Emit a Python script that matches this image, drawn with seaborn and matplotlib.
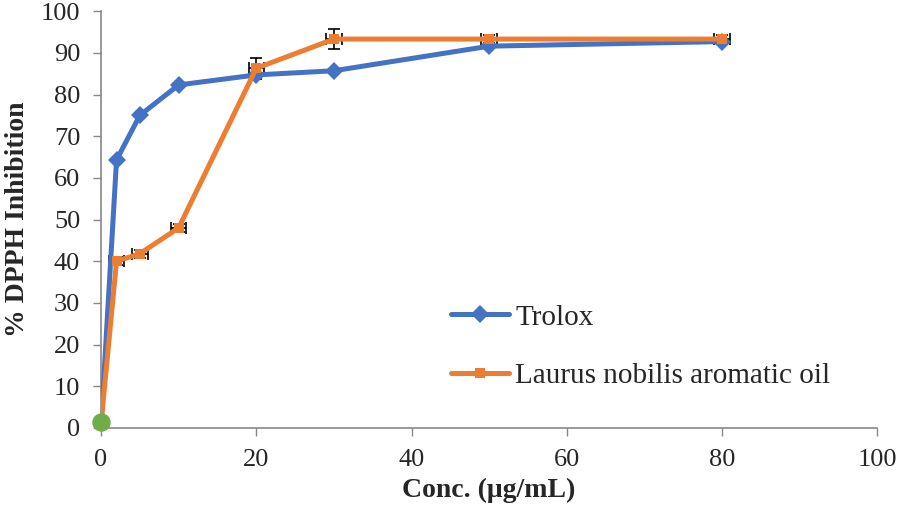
import numpy as np
import pandas as pd
import matplotlib
matplotlib.use("Agg")
import matplotlib.pyplot as plt
import seaborn as sns

conc = [0, 2, 5, 10, 20, 30, 50, 80]
trolox = [0.5, 64.3, 75.0, 82.3, 84.7, 85.7, 91.6, 92.7]
laurus = [1.0, 40.0, 41.8, 48.0, 86.3, 93.3, 93.3, 93.3]
laurus_yerr = [0, 1.0, 1.0, 1.0, 2.5, 2.5, 1.0, 1.0]
laurus_xerr = [0, 1.0, 1.0, 1.0, 1.0, 1.0, 1.0, 1.0]
series_names = ["Trolox", "Laurus nobilis aromatic oil"]
xticks = [0, 20, 40, 60, 80, 100]
yticks = list(range(0, 101, 10))

sns.set_theme(style="white")
plt.rcParams['font.family'] = ['Liberation Serif', 'DejaVu Serif']

df = pd.DataFrame({
    "conc": conc * 2,
    "value": trolox + laurus,
    "series": [series_names[0]] * len(conc) + [series_names[1]] * len(conc),
})

fig = plt.figure(figsize=(8.98, 5.07), dpi=100)
ax = fig.add_axes([0.1125, 0.156, 0.8645, 0.822])

blue = "#4472C4"
orange = "#ED7D31"

ax.errorbar(conc, laurus, yerr=laurus_yerr, xerr=laurus_xerr, fmt="none",
            ecolor="black", elinewidth=1.2, capsize=4, capthick=1.2, zorder=2)

sns.lineplot(data=df[df.series == series_names[0]], x="conc", y="value", ax=ax,
             color=blue, linewidth=3.6, marker="D", markersize=9,
             markeredgewidth=0, label=series_names[0], zorder=3)
sns.lineplot(data=df[df.series == series_names[1]], x="conc", y="value", ax=ax,
             color=orange, linewidth=3.6, marker="s", markersize=7,
             markeredgewidth=0, label=series_names[1], zorder=4)
ax.scatter([0], [1.5], s=150, color="#70AD47", zorder=5, clip_on=False)

ax.set_xlim(0, 100)
ax.set_ylim(0, 100)
ax.set_xticks(xticks)
ax.set_yticks(yticks)
ax.tick_params(axis="both", which="both", length=6, width=1, color="#888888",
               labelsize=19, direction="out", bottom=True, left=True, pad=9)
for side in ["top", "right"]:
    ax.spines[side].set_visible(False)
for side in ["left", "bottom"]:
    ax.spines[side].set_color("#888888")
    ax.spines[side].set_linewidth(1.2)
ax.grid(False)
ax.set_xlabel("Conc. (μg/mL)", fontsize=20, fontweight="bold", labelpad=5)
ax.set_ylabel("% DPPH Inhibition", fontsize=20, fontweight="bold", labelpad=8)

leg = ax.legend(loc="center left", bbox_to_anchor=(0.417, 0.195), frameon=False,
                fontsize=21, handlelength=2.0, handletextpad=0.2, labelspacing=1.1)

fig.savefig("out.png", dpi=100)
